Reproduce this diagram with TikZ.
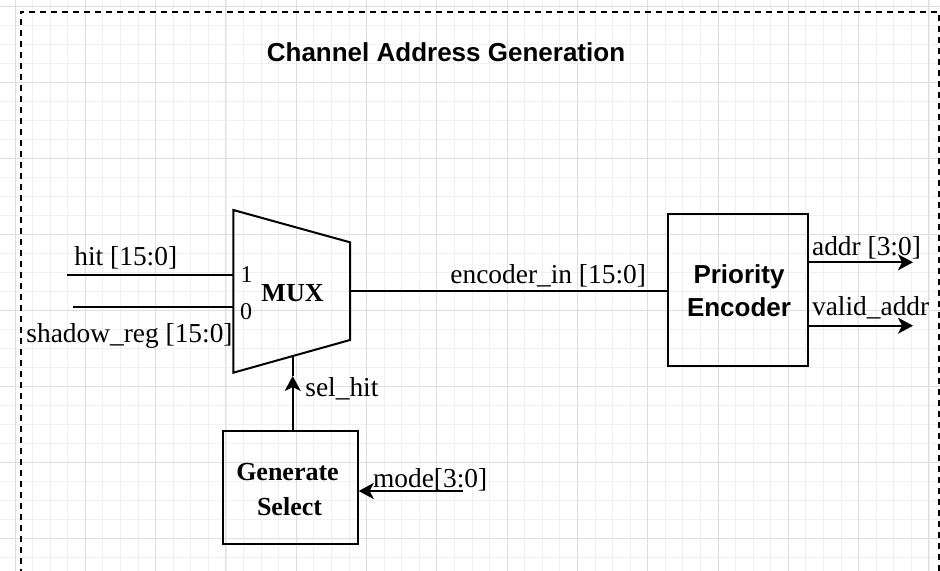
\documentclass[tikz,border=0pt]{standalone}
\usepackage{fontspec}
\setmainfont{Liberation Serif}
\newfontfamily\arialfont{Liberation Sans}
\usetikzlibrary{arrows.meta}

\begin{document}
\begin{tikzpicture}[x=0.5pt, y=-0.5pt,
    txt/.style = {inner sep=0pt, font=\fontsize{13.7}{16}\selectfont},
    boldtxt/.style = {inner sep=0pt, font=\fontsize{13}{15}\selectfont\bfseries},
    sanstxt/.style = {inner sep=0pt, font=\fontsize{13}{15}\selectfont\arialfont\bfseries},
    blockbox/.style = {draw, line width=1pt, inner sep=0pt},
    wire/.style = {line width=1pt},
    sig/.style = {line width=1pt, -{Stealth[length=7.5pt, width=8pt, inset=2pt]}},
    gridminor/.style = {line width=0.4pt, black!6},
    gridmajor/.style = {line width=0.5pt, black!13}]

      \useasboundingbox (0,0) rectangle (940,571);
      \fill[white] (0,0) rectangle (940,571);

      % background grid
      \foreach \i in {-1,...,53}
        \draw[gridminor] ({15+17.575*\i},0) -- ({15+17.575*\i},571);
      \foreach \j in {0,...,29}
        \draw[gridminor] (0,{6.7+19*\j}) -- (940,{6.7+19*\j});
      \foreach \i in {0,...,13}
        \draw[gridmajor] ({15+70.3*\i},0) -- ({15+70.3*\i},571);
      \foreach \j in {0,...,7}
        \draw[gridmajor] (0,{6.7+76*\j}) -- (940,{6.7+76*\j});

      % dashed frame
      \draw[line width=0.9pt, dash pattern=on 3pt off 2.5pt]
        (20.7,575) -- (20.7,11.7) -- (939.3,11.7) -- (939.3,575);

      \node[sanstxt, anchor=base] (title) at (446,61.7) {Channel Address Generation};

      % mux
      \coordinate (muxtl) at (233.3,210);
      \coordinate (muxtr) at (350,242.3);
      \coordinate (muxbr) at (350,340);
      \coordinate (muxbl) at (233.3,372.7);
      \draw[wire, line join=miter] (muxtl) -- (muxtr) -- (muxbr) -- (muxbl) -- cycle;
      \node[boldtxt, anchor=base] (muxlbl) at (292.5,301.7) {MUX};
      \node[txt, font=\fontsize{12}{14}\selectfont, anchor=base] (one) at (246.5,282.7) {1};
      \node[txt, font=\fontsize{12}{14}\selectfont, anchor=base] (zero) at (246,319.3) {0};

      \coordinate (hitin) at (66.7,275);
      \coordinate (hitmux) at (233.3,275);
      \coordinate (shin) at (72.7,307.3);
      \coordinate (shmux) at (233.3,307.3);
      \draw[wire] (hitin) -- (hitmux);
      \draw[wire] (shin) -- (shmux);
      \node[txt, anchor=base west] (hitlbl) at (74,265) {hit [15:0]};
      \node[txt, anchor=base west] (shlbl) at (26,342.7) {shadow\_reg [15:0]};

      % priority encoder
      \node[blockbox, minimum width=70.3pt, minimum height=75.85pt] (enc) at (738,289.85) {};
      \node[sanstxt, anchor=base] (enc1) at (739,283.3) {Priority};
      \node[sanstxt, anchor=base] (enc2) at (739,316.7) {Encoder};

      \coordinate (muxout) at (350,290.7);
      \draw[wire] (muxout) -- (muxout -| enc.west);
      \node[txt, anchor=base west] (enclbl) at (450,283.3) {encoder\_in [15:0]};

      \coordinate (addrend) at (913,262.3);
      \coordinate (validend) at (913,325.7);
      \draw[sig] (addrend -| enc.east) -- (addrend);
      \draw[sig] (validend -| enc.east) -- (validend);
      \node[txt, anchor=base west] (addrlbl) at (811.7,256) {addr [3:0]};
      \node[txt, anchor=base west] (validlbl) at (811.7,315) {valid\_addr};

      % select generator
      \node[blockbox, minimum width=67.5pt, minimum height=56.8pt] (gen) at (290.2,487.5) {};
      \node[boldtxt, anchor=base] (gen1) at (287.5,480) {Generate};
      \node[boldtxt, anchor=base] (gen2) at (289.5,515) {Select};

      \coordinate (seltip) at (292.7,376);
      \coordinate (selmux) at (292.7,356);
      \draw[sig] (seltip |- gen.north) -- (seltip);
      \draw[wire] (seltip) -- (selmux);
      \node[txt, anchor=base west] (sellbl) at (305,396.7) {sel\_hit};

      \coordinate (modein) at (463,491);
      \draw[sig] (modein) -- (modein -| gen.east);
      \node[txt, anchor=base west] (modelbl) at (372.7,487.3) {mode[3:0]};
    \end{tikzpicture}
\end{document}
